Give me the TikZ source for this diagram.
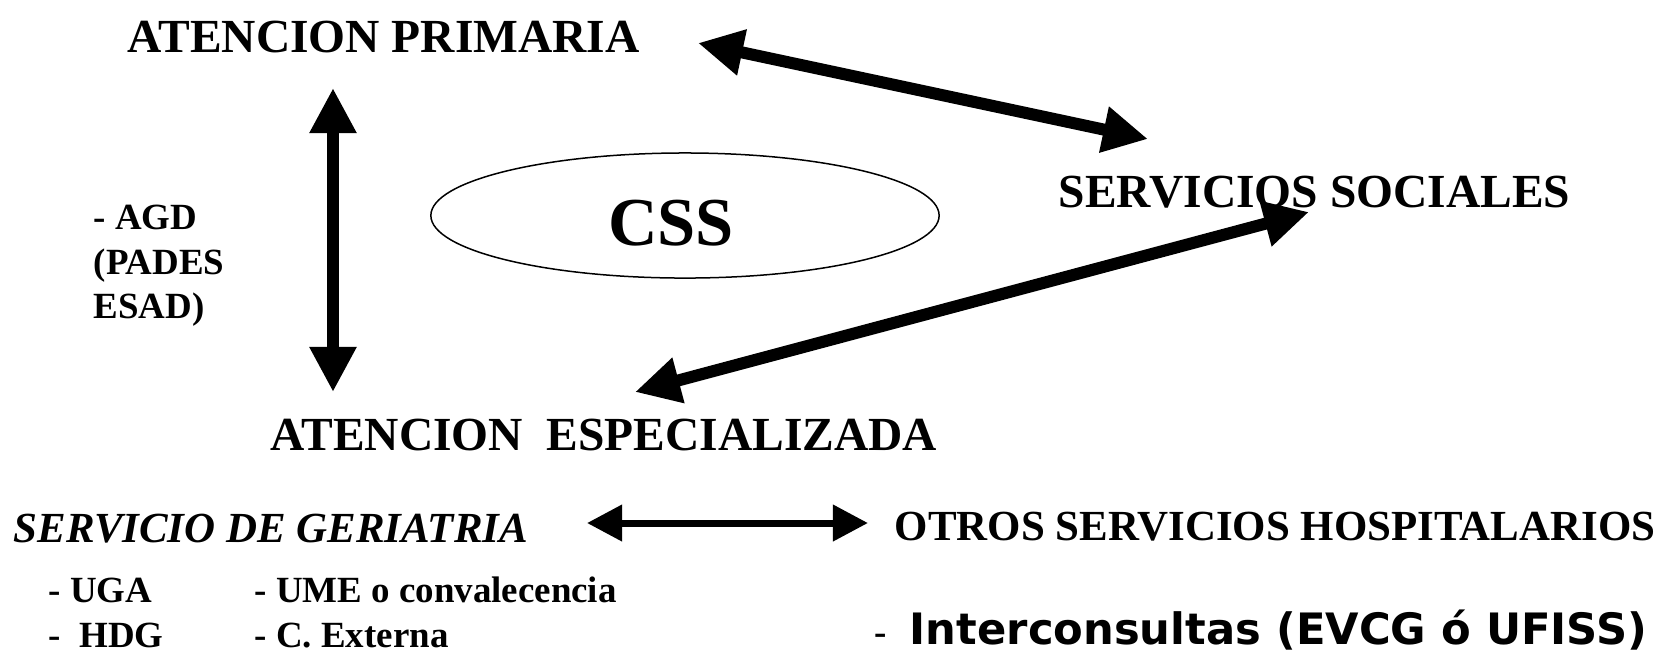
\documentclass[tikz,border=0pt]{standalone}
\usepackage{fontspec}
\setmainfont{Liberation Serif}
\newfontfamily\verdFont{DejaVu Sans}
\usetikzlibrary{positioning, shapes, arrows.meta, calc}
\definecolor{cssInk}{HTML}{000000}

\begin{document}
\begin{tikzpicture}[
  x=0.01cm, y=-0.01cm,
  lbl/.style={inner sep=0pt, anchor=base west, text=cssInk, font=\fontsize{13.5}{16}\selectfont\bfseries},
  sub/.style={inner sep=0pt, anchor=base west, text=cssInk, font=\fontsize{12.2}{14}\selectfont\bfseries},
  item/.style={inner sep=0pt, anchor=base west, text=cssInk, font=\fontsize{10.5}{12.5}\selectfont\bfseries},
  bigArr/.style={{Triangle[length=0.45cm, width=0.44cm]}-{Triangle[length=0.45cm, width=0.44cm]}, line width=0.12cm, draw=cssInk},
  smallArr/.style={{Triangle[length=0.35cm, width=0.35cm]}-{Triangle[length=0.35cm, width=0.35cm]}, line width=0.07cm, draw=cssInk}
]
\useasboundingbox (0,0) rectangle (1659,653);

% main blocks
\node[lbl] (aprim) at (127,52) {ATENCION PRIMARIA};
\node[lbl] (ssoc) at (1058,207) {SERVICIOS SOCIALES};
\node[lbl] (aesp) at (270,450) {ATENCION\ \ ESPECIALIZADA};
\node[ellipse, draw=cssInk, line width=0.015cm, minimum width=5.08cm, minimum height=1.25cm] (cssRing) at (685,215.5) {};
\node[inner sep=0pt, anchor=base, font=\fontsize{19.5}{22}\selectfont\bfseries] (css) at (671,245) {CSS};

% home care teams
\node[item] (agd) at (93,229) {- AGD};
\node[item] (pades) at (93,274) {(PADES};
\node[item] (esad) at (93,318) {ESAD)};

% hospital level
\node[sub, font=\fontsize{12.2}{14}\selectfont\bfseries\itshape] (geri) at (13,542) {SERVICIO DE GERIATRIA};
\node[sub] (otros) at (894,540) {OTROS SERVICIOS HOSPITALARIOS};
\node[item] (uga) at (48,602) {- UGA};
\node[item] (hdg) at (48,647) {-\ \ HDG};
\node[item] (ume) at (254,602) {- UME o convalecencia};
\node[item] (cext) at (254,647) {- C. Externa};
\node[item] (inter) at (874,644) {-\hspace{6.5pt}{\verdFont\fontsize{12.3}{14}\selectfont\bfseries Interconsultas (EVCG ó UFISS)}};

% arrow ends
\coordinate (apTip) at (698,43);
\coordinate (ssTip) at (1148,139);
\coordinate (ssLow) at (1309,212);
\coordinate (aeTip) at (635,392);
\coordinate (apLow) at (333,88);
\coordinate (aeTop) at (333,392);
\coordinate (geriTip) at (587,523);
\coordinate (otrosTip) at (868,523);

\draw[bigArr] (apTip) -- (ssTip);
\draw[bigArr] (ssLow) -- (aeTip);
\draw[bigArr] (apLow) -- (aeTop);
\draw[smallArr] (geriTip) -- (otrosTip);
\end{tikzpicture}
\end{document}
